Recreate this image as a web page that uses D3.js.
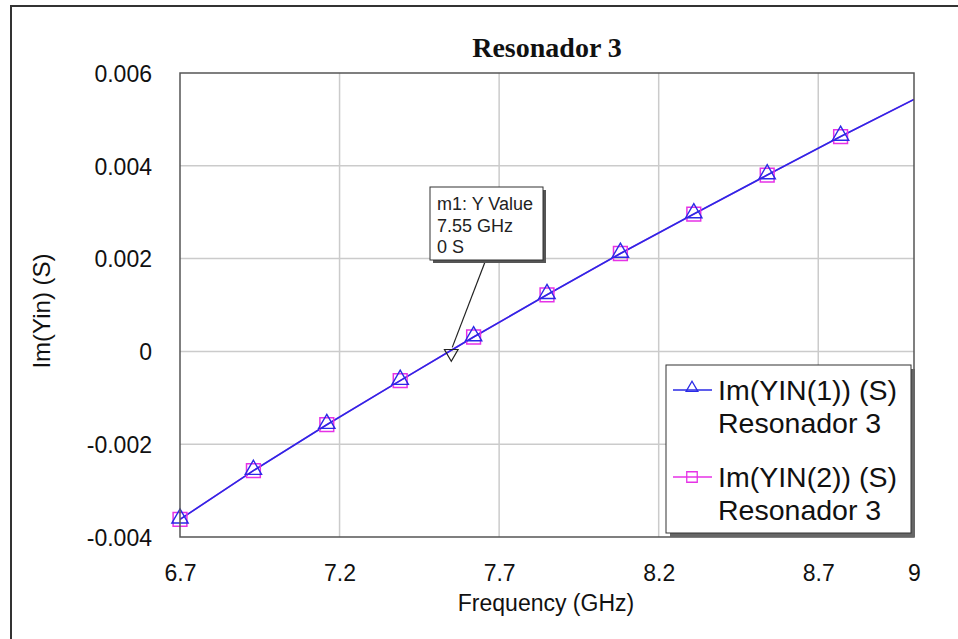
<!DOCTYPE html>
<html>
<head>
<meta charset="utf-8">
<script src="https://cdn.jsdelivr.net/npm/d3@7"></script>
<style>
  html, body { margin: 0; padding: 0; background: #fff; }
  svg { display: block; }
</style>
</head>
<body>
<svg id="chart" width="958" height="639"></svg>
<script>
// ---- data ----
const freqs = [6.7, 6.93, 7.16, 7.39, 7.62, 7.85, 8.08, 8.31, 8.54, 8.77, 9.0];
const imYin1 = [-0.00362, -0.00257, -0.00158, -0.00063, 0.00031, 0.00122, 0.00211, 0.00296, 0.00380, 0.00463, 0.00543];
const imYin2 = [-0.00362, -0.00257, -0.00158, -0.00063, 0.00031, 0.00122, 0.00211, 0.00296, 0.00380, 0.00463, 0.00543];
const markerFreqs = [6.7, 6.93, 7.16, 7.39, 7.62, 7.85, 8.08, 8.31, 8.54, 8.77];
const xTicks = [6.7, 7.2, 7.7, 8.2, 8.7, 9];
const xTickLabels = ["6.7", "7.2", "7.7", "8.2", "8.7", "9"];
const yTicks = [-0.004, -0.002, 0, 0.002, 0.004, 0.006];
const yTickLabels = ["-0.004", "-0.002", "0", "0.002", "0.004", "0.006"];
const markerM1 = { freq: 7.55, value: 0 };
const markerLines = ["m1: Y Value", "7.55 GHz", "0 S"];
const seriesNames = ["Im(YIN(1)) (S)", "Im(YIN(2)) (S)"];
const seriesSub = ["Resonador 3", "Resonador 3"];
const title = "Resonador 3";
const xTitle = "Frequency (GHz)";
const yTitle = "Im(Yin) (S)";

// ---- layout ----
const svg = d3.select("#chart");
const L = 180, R = 914, T = 73, B = 537;
const x = d3.scaleLinear().domain([6.7, 9]).range([L, R]);
const y = d3.scaleLinear().domain([-0.004, 0.006]).range([B, T]);
const blue = "#2a2ae6";
const magenta = "#e632e6";
const sans = "'Liberation Sans', Arial, sans-serif";

// outer frame (left and top edges)
svg.append("path").attr("d", `M11,639 L11,6 L958,6`).attr("fill", "none")
  .attr("stroke", "#333").attr("stroke-width", 2);

// title
svg.append("text").attr("x", 547).attr("y", 57).attr("text-anchor", "middle")
  .attr("font-family", "'Liberation Serif', 'Times New Roman', serif")
  .attr("font-weight", "bold").attr("font-size", 28).attr("fill", "#111").text(title);

// grid
const grid = svg.append("g");
grid.selectAll("line.gx").data(xTicks.slice(1, -1)).join("line")
  .attr("x1", d => x(d)).attr("x2", d => x(d)).attr("y1", T).attr("y2", B)
  .attr("stroke", "#cbcbcb").attr("stroke-width", 1.5);
grid.selectAll("line.gy").data(yTicks.slice(1, -1)).join("line")
  .attr("x1", L).attr("x2", R).attr("y1", d => y(d)).attr("y2", d => y(d))
  .attr("stroke", "#cbcbcb").attr("stroke-width", 1.5);

// axes (labels only)
const xAxis = d3.axisBottom(x).tickValues(xTicks).tickSize(0).tickPadding(0)
  .tickFormat((d, i) => xTickLabels[i]);
const gx = svg.append("g").attr("transform", `translate(0,${B})`).call(xAxis);
gx.select(".domain").remove();
gx.selectAll("text").attr("font-family", sans).attr("font-size", 23).attr("fill", "#111")
  .attr("dy", null).attr("y", 44);

const yAxis = d3.axisLeft(y).tickValues(yTicks).tickSize(0).tickPadding(0)
  .tickFormat((d, i) => yTickLabels[i]);
const gy = svg.append("g").attr("transform", `translate(${L - 28},0)`).call(yAxis);
gy.select(".domain").remove();
gy.selectAll("text").attr("font-family", sans).attr("font-size", 23).attr("fill", "#111")
  .attr("dy", "0.36em").attr("x", 0);

// axis titles
svg.append("text").attr("x", 546).attr("y", 611).attr("text-anchor", "middle")
  .attr("font-family", sans).attr("font-size", 23).attr("fill", "#111").text(xTitle);
svg.append("text").attr("transform", `translate(50,${(T + B) / 2 + 6}) rotate(-90)`)
  .attr("text-anchor", "middle").attr("font-family", sans).attr("font-size", 24)
  .attr("fill", "#111").text(yTitle);

// clip
svg.append("clipPath").attr("id", "clip").append("rect")
  .attr("x", L).attr("y", T).attr("width", R - L).attr("height", B - T);

const line = d3.line().x(d => x(d[0])).y(d => y(d[1]));
const plot = svg.append("g").attr("clip-path", "url(#clip)");
const d1 = freqs.map((f, i) => [f, imYin1[i]]);
const d2 = freqs.map((f, i) => [f, imYin2[i]]);
plot.append("path").datum(d2).attr("d", line).attr("fill", "none")
  .attr("stroke", magenta).attr("stroke-width", 1.5);
plot.append("path").datum(d1).attr("d", line).attr("fill", "none")
  .attr("stroke", blue).attr("stroke-width", 1.6);

const sq = d3.symbol().type(d3.symbolSquare).size(190);
const tri = d3.symbol().type(d3.symbolTriangle).size(115);
const mk1 = d1.filter(d => markerFreqs.includes(d[0]));
const mk2 = d2.filter(d => markerFreqs.includes(d[0]));
svg.append("g").selectAll("path").data(mk2).join("path")
  .attr("d", sq).attr("transform", d => `translate(${x(d[0])},${y(d[1])})`)
  .attr("fill", "none").attr("stroke", magenta).attr("stroke-width", 1.5);
svg.append("g").selectAll("path").data(mk1).join("path")
  .attr("d", tri).attr("transform", d => `translate(${x(d[0])},${y(d[1]) - 1})`)
  .attr("fill", "none").attr("stroke", blue).attr("stroke-width", 1.4);

// plot frame
svg.append("rect").attr("x", L).attr("y", T).attr("width", R - L).attr("height", B - T)
  .attr("fill", "none").attr("stroke", "#555").attr("stroke-width", 1.5);

// marker m1
const mx = x(markerM1.freq), my = y(markerM1.value);
const down = d3.symbol().type(d3.symbolTriangle).size(80);
svg.append("line").attr("x1", 485).attr("y1", 262).attr("x2", mx + 1).attr("y2", my - 4)
  .attr("stroke", "#222").attr("stroke-width", 1.2);
svg.append("path").attr("d", down).attr("transform", `translate(${mx},${my + 2}) rotate(180)`)
  .attr("fill", "none").attr("stroke", "#222").attr("stroke-width", 1.2);
const ab = { x: 430, y: 187, w: 113, h: 73 };
svg.append("rect").attr("x", ab.x + 3).attr("y", ab.y + 3).attr("width", ab.w).attr("height", ab.h)
  .attr("fill", "#555");
svg.append("rect").attr("x", ab.x).attr("y", ab.y).attr("width", ab.w).attr("height", ab.h)
  .attr("fill", "#fff").attr("stroke", "#333").attr("stroke-width", 1);
svg.append("g").selectAll("text").data(markerLines).join("text")
  .attr("x", ab.x + 7).attr("y", (d, i) => 210 + i * 21.5)
  .attr("font-family", sans).attr("font-size", 18).attr("fill", "#222").text(d => d);

// legend
const lg = { x: 666, y: 365, w: 245, h: 168 };
svg.append("rect").attr("x", lg.x + 4).attr("y", lg.y + 4).attr("width", lg.w).attr("height", lg.h)
  .attr("fill", "#666");
svg.append("rect").attr("x", lg.x).attr("y", lg.y).attr("width", lg.w).attr("height", lg.h)
  .attr("fill", "#fff").attr("stroke", "#333").attr("stroke-width", 1);
const legY = [390, 477];
const legCol = [blue, magenta];
const legSym = [d3.symbol().type(d3.symbolTriangle).size(60), d3.symbol().type(d3.symbolSquare).size(110)];
legY.forEach((ly, i) => {
  svg.append("line").attr("x1", 673).attr("x2", 712).attr("y1", ly).attr("y2", ly)
    .attr("stroke", legCol[i]).attr("stroke-width", 1.4);
  svg.append("path").attr("d", legSym[i]).attr("transform", `translate(692,${ly - (i === 0 ? 2 : 0)})`)
    .attr("fill", "none").attr("stroke", legCol[i]).attr("stroke-width", 1.3);
  svg.append("text").attr("x", 718).attr("y", ly + 10).attr("font-family", sans)
    .attr("font-size", 28.5).attr("fill", "#111").text(seriesNames[i]);
  svg.append("text").attr("x", 718).attr("y", ly + 43).attr("font-family", sans)
    .attr("font-size", 28.5).attr("fill", "#111").text(seriesSub[i]);
});
</script>
</body>
</html>
